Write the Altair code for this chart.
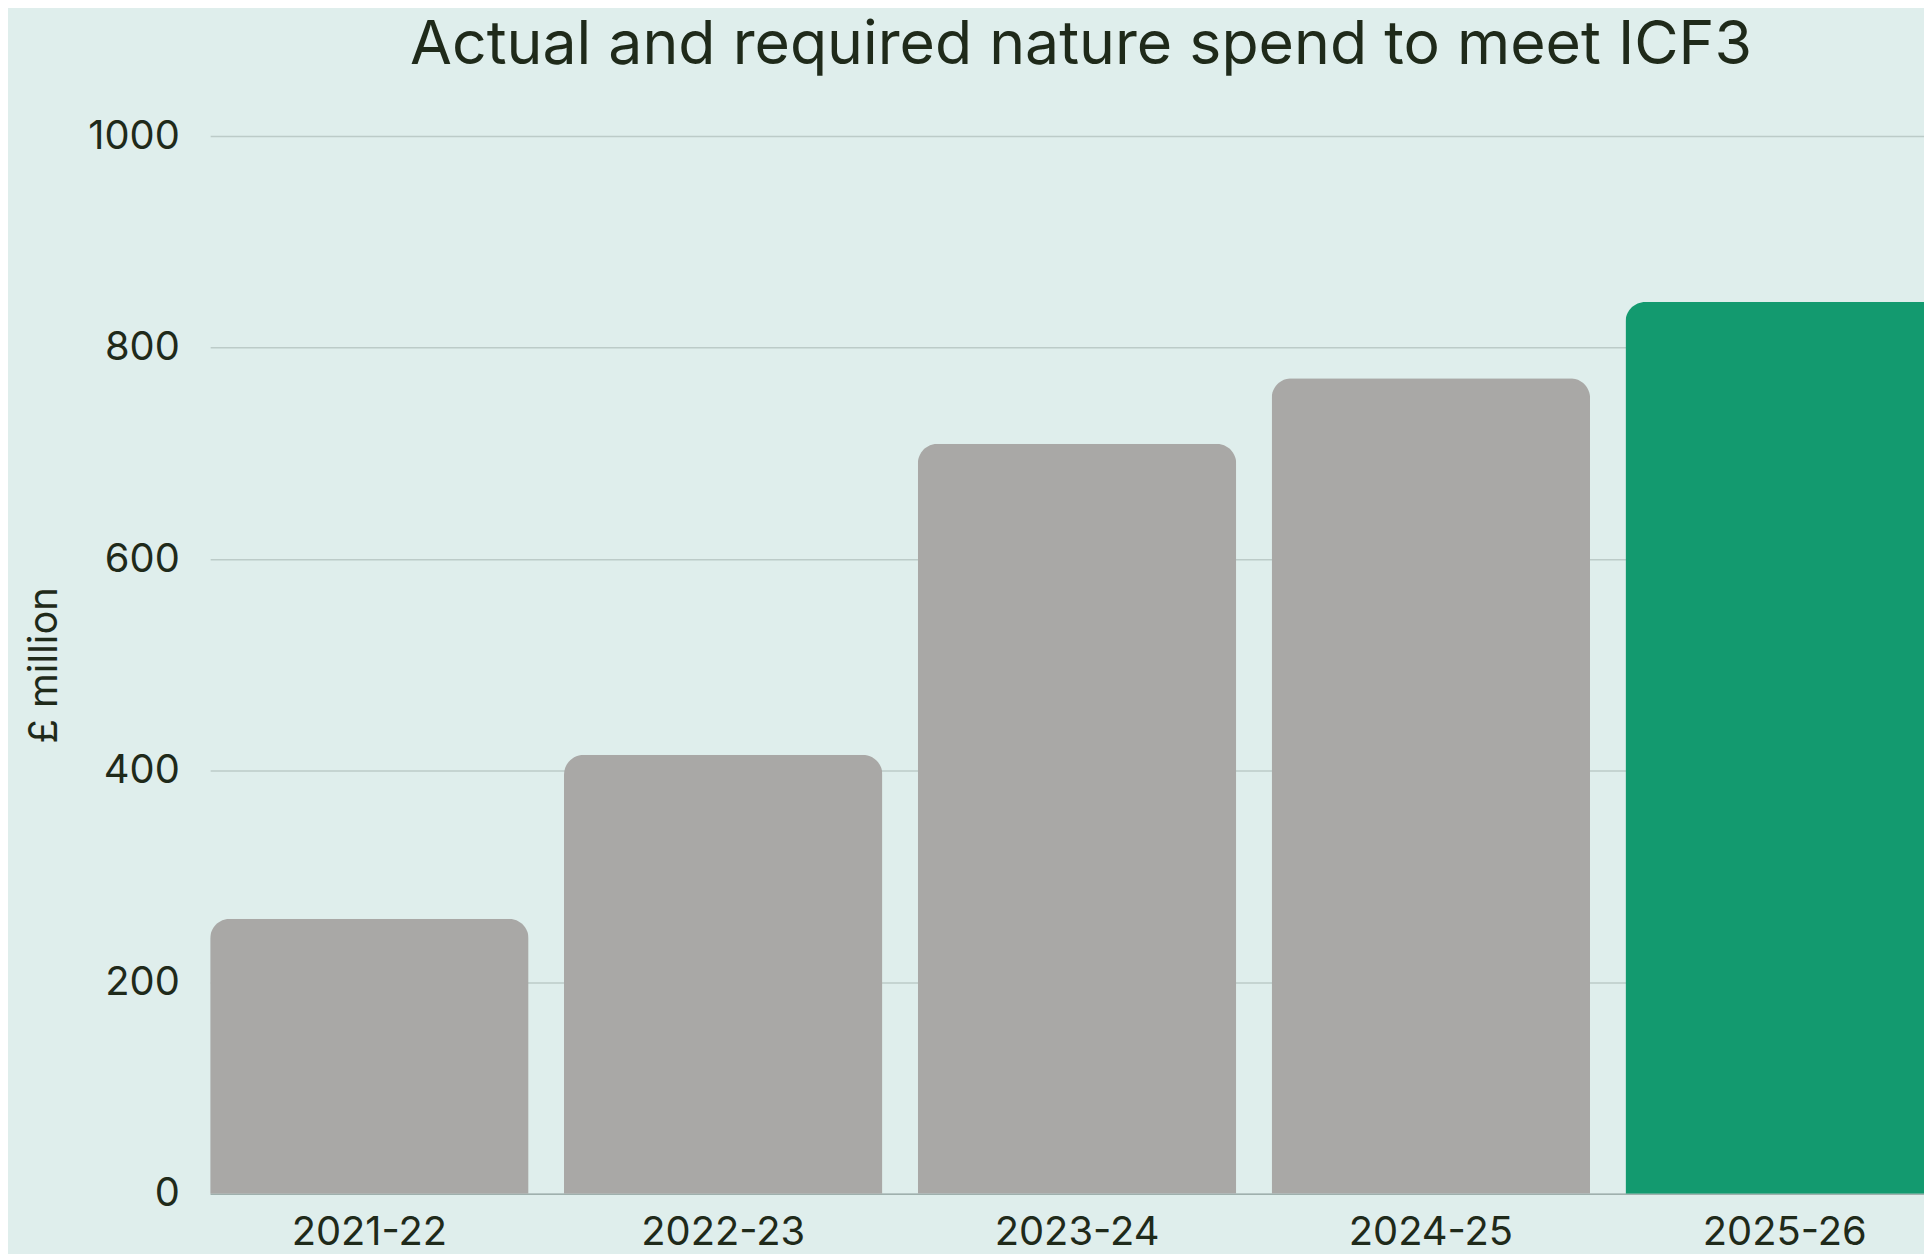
import altair as alt
import pandas as pd

years = ["2021-22", "2022-23", "2023-24", "2024-25", "2025-26"]
spend = [260, 415, 709, 771, 843]
kind = ["Actual", "Actual", "Actual", "Actual", "Required"]

df = pd.DataFrame({"year": years, "spend": spend, "kind": kind})

TEXT = "#1F2A1A"
BG = "#DFEEEC"

chart = (
    alt.Chart(df)
    .mark_bar(cornerRadiusTopLeft=20, cornerRadiusTopRight=20)
    .encode(
        x=alt.X(
            "year:N",
            sort=years,
            title=None,
            scale=alt.Scale(paddingInner=0.1, paddingOuter=0),
            axis=alt.Axis(
                labelAngle=0,
                labelFont="Inter",
                labelFontSize=40,
                labelColor=TEXT,
                labelPadding=19,
                ticks=False,
                tickSize=0,
                domain=True,
                domainColor="#9FB0AD",
                domainWidth=1.5,
                grid=False,
            ),
        ),
        y=alt.Y(
            "spend:Q",
            title="£ million",
            scale=alt.Scale(domain=[0, 1000], nice=False),
            axis=alt.Axis(
                values=[0, 200, 400, 600, 800, 1000],
                format="d",
                labelFont="Inter",
                labelFontSize=40,
                labelColor=TEXT,
                labelPadding=31,
                ticks=False,
                tickSize=0,
                domain=False,
                grid=True,
                gridColor="#BCCBC8",
                gridWidth=1.5,
                titleFont="Inter",
                titleFontSize=40,
                titleFontWeight="normal",
                titleColor=TEXT,
                titlePadding=23,
            ),
        ),
        color=alt.Color(
            "kind:N",
            scale=alt.Scale(domain=["Actual", "Required"], range=["#A9A8A6", "#139A6F"]),
            legend=None,
        ),
    )
    .properties(
        width=1741,
        height=1062,
        background=BG,
        padding={"left": 203, "top": 126, "right": -20, "bottom": 60},
        autosize=alt.AutoSizeParams(type="none"),
        title=alt.TitleParams(
            "Actual and required nature spend to meet ICF3",
            font="Inter",
            fontSize=61,
            fontWeight="normal",
            color=TEXT,
            anchor="middle",
            offset=39,
            dx=4,
        ),
    )
    .configure_view(stroke=None)
)

chart.save("out.html", embed_options={"renderer": "svg", "actions": False})
